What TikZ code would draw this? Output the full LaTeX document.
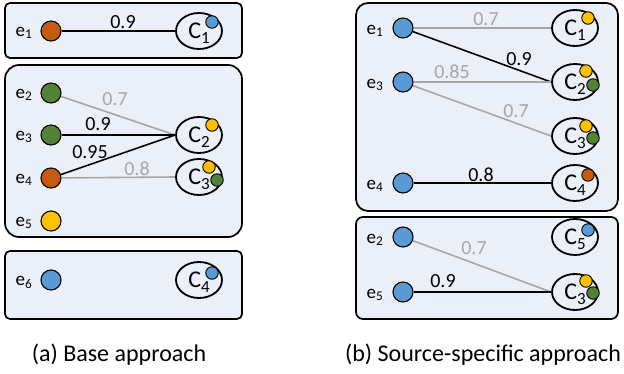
\documentclass[tikz,border=0pt]{standalone}
\usepackage{fontspec}
\setmainfont{Carlito}
\usetikzlibrary{shapes.geometric}
\definecolor{bg}{HTML}{EBF0F8}
\definecolor{cor}{HTML}{C55A11}
\definecolor{cgr}{HTML}{548235}
\definecolor{cye}{HTML}{FFC000}
\definecolor{cbl}{HTML}{5B9BD5}
\definecolor{lgr}{HTML}{A6A6A6}
\newcommand\csub[1]{C\smash{\raisebox{-0.45ex}{\fontsize{17}{17}\selectfont #1}}}
\tikzset{
 panel/.style={draw=black, fill=bg, line width=1.7pt, rounded corners=#1},
 ent/.style={circle, draw=black, line width=1.1pt, minimum size=20pt, inner sep=0pt, fill=#1},
 dot/.style={circle, draw=black, line width=0.9pt, minimum size=12.5pt, inner sep=0pt, fill=#1},
 clu/.style={ellipse, draw=black, line width=1.8pt, minimum width=46pt, minimum height=36pt, inner sep=0pt, font=\fontsize{24}{24}\selectfont},
 elab/.style={font=\fontsize{19}{19}\selectfont, inner sep=0pt},
 strong/.style={draw=black, line width=1.6pt},
 weak/.style={draw=lgr, line width=1.6pt},
 wl/.style={font=\fontsize{20}{20}\selectfont, text=#1, inner sep=0pt},
 captext/.style={font=\fontsize{24}{24}\selectfont, inner sep=0pt},
}
\begin{document}
\begin{tikzpicture}[x=1pt,y=-1pt]
\useasboundingbox (0,0) rectangle (624,374);
% ---------- (a) Base approach ----------
\draw[panel=5pt] (5,3) rectangle (242,58);
\draw[panel=14pt] (5,65) rectangle (242,237);
\draw[panel=5pt] (5,251) rectangle (242,319);

\node[ent=cor] (a1) at (51,31) {};
\node[ent=cgr] (a2) at (51,93) {};
\node[ent=cgr] (a3) at (51,135) {};
\node[ent=cor] (a4) at (51,178) {};
\node[ent=cye] (a5) at (51,221) {};
\node[ent=cbl] (a6) at (51,280) {};
\node[elab] (la1) at (24,33) {e\textsubscript{1}};
\node[elab] (la2) at (24,95) {e\textsubscript{2}};
\node[elab] (la3) at (24,137) {e\textsubscript{3}};
\node[elab] (la4) at (24,180) {e\textsubscript{4}};
\node[elab] (la5) at (24,223) {e\textsubscript{5}};
\node[elab] (la6) at (24,282) {e\textsubscript{6}};

\node[clu] (aC1) at (199,31) {\csub{1}};
\node[clu] (aC2) at (199,135) {\csub{2}};
\node[clu] (aC3) at (199,177) {\csub{3}};
\node[clu] (aC4) at (199,280) {\csub{4}};
\node[dot=cbl] (aC1a) at (212,22) {};
\node[dot=cye] (aC2a) at (212,125) {};
\node[dot=cye] (aC3a) at (209,167) {};
\node[dot=cgr] (aC3b) at (217,180) {};
\node[dot=cbl] (aC4a) at (212,273) {};

\draw[strong] (a1) -- (aC1.west);
\draw[weak] (a2) -- (aC2.west);
\draw[strong] (a3) -- (aC2.west);
\draw[strong] (a4) -- (aC2.west);
\draw[weak] (a4) -- (aC3.west);
\node[wl=black] (w1) at (123,22) {0.9};
\node[wl=lgr] (w2) at (115,99) {0.7};
\node[wl=black] (w3) at (98,124) {0.9};
\node[wl=black] (w4) at (90,152) {0.95};
\node[wl=lgr] (w5) at (137,169) {0.8};

\node[captext] (capa) at (119,355) {(a) Base approach};

% ---------- (b) Source-specific approach ----------
\draw[panel=12pt] (356,3) rectangle (618,211);
\draw[panel=7pt] (356,217) rectangle (618,319);

\node[ent=cbl] (b1) at (403,28) {};
\node[ent=cbl] (b3) at (403,82) {};
\node[ent=cbl] (b4) at (403,183) {};
\node[ent=cbl] (b2) at (403,237) {};
\node[ent=cbl] (b5) at (403,292) {};
\node[elab] (lb1) at (375,31) {e\textsubscript{1}};
\node[elab] (lb3) at (375,85) {e\textsubscript{3}};
\node[elab] (lb4) at (375,186) {e\textsubscript{4}};
\node[elab] (lb2) at (375,240) {e\textsubscript{2}};
\node[elab] (lb5) at (375,295) {e\textsubscript{5}};

\node[clu] (bC1) at (575,28) {\csub{1}};
\node[clu] (bC2) at (575,82) {\csub{2}};
\node[clu] (bC3) at (575,136) {\csub{3}};
\node[clu] (bC4) at (575,183) {\csub{4}};
\node[clu] (bC5) at (575,237) {\csub{5}};
\node[clu] (bC3x) at (575,292) {\csub{3}};
\node[dot=cye] (bC1a) at (588,18) {};
\node[dot=cye] (bC2a) at (586,71) {};
\node[dot=cgr] (bC2b) at (593,85) {};
\node[dot=cye] (bC3a) at (586,126) {};
\node[dot=cgr] (bC3b) at (593,138) {};
\node[dot=cor] (bC4a) at (588,175) {};
\node[dot=cbl] (bC5a) at (588,230) {};
\node[dot=cye] (bC3xa) at (586,281) {};
\node[dot=cgr] (bC3xb) at (593,293) {};

\draw[weak] (b1) -- (bC1.west);
\draw[strong] (b1) -- (bC2.west);
\draw[weak] (b3) -- (bC2.west);
\draw[weak] (b3) -- (bC3.west);
\draw[strong] (b4) -- (bC4.west);
\draw[weak] (b2) -- (bC3x.west);
\draw[strong] (b5) -- (bC3x.west);
\node[wl=lgr] (v1) at (486,19) {0.7};
\node[wl=black] (v2) at (519,59) {0.9};
\node[wl=lgr] (v3) at (452,72) {0.85};
\node[wl=lgr] (v4) at (516,111) {0.7};
\node[wl=black] (v5) at (481,175) {0.8};
\node[wl=lgr] (v6) at (474,248) {0.7};
\node[wl=black] (v7) at (443,281) {0.9};

\node[captext] (capb) at (483,355) {(b) Source-specific approach};
\end{tikzpicture}
\end{document}
